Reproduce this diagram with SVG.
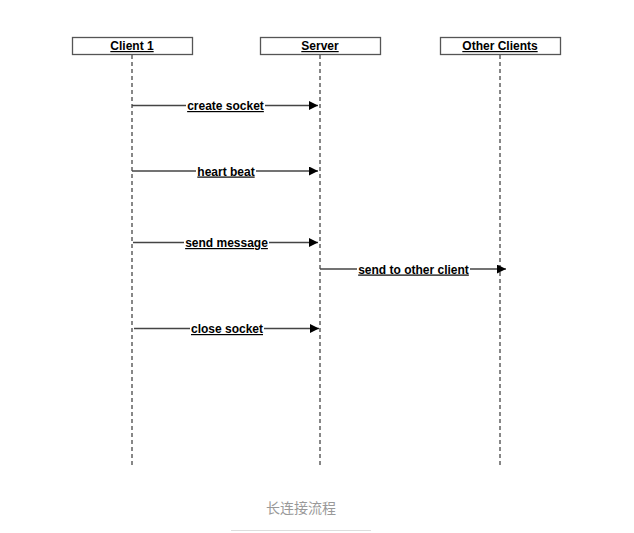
<svg xmlns="http://www.w3.org/2000/svg" width="634" height="533" viewBox="0 0 634 533">
<defs>
<style>
.box{fill:#fff;stroke:#555;stroke-width:1.3}
.life{stroke:#555;stroke-width:1.4;stroke-dasharray:4 3;fill:none}
.msg{stroke:#444;stroke-width:1.5;fill:none}
.lbl{font-family:"Liberation Sans",Arial,sans-serif;font-size:12px;font-weight:bold;fill:#000;text-anchor:middle;text-decoration:underline}
.bg{fill:#fff}
.cap{font-family:"Noto Sans CJK SC",sans-serif;font-size:14px;fill:#999;text-anchor:middle}
</style>
<marker id="arr" viewBox="0 0 10 10" refX="10" refY="5" markerWidth="9" markerHeight="9" markerUnits="userSpaceOnUse" orient="auto">
<path d="M0,0 L10,5 L0,10 z" fill="#000"/>
</marker>
</defs>
<rect width="634" height="533" fill="#fff"/>
<g id="client1">
<rect class="box" x="72.5" y="37.5" width="120" height="17"/>
<text class="lbl" x="132" y="50">Client 1</text>
<line class="life" x1="132" y1="55" x2="132" y2="466"/>
</g>
<g id="server">
<rect class="box" x="260.5" y="37.5" width="120" height="17"/>
<text class="lbl" x="320" y="50">Server</text>
<line class="life" x1="320" y1="55" x2="320" y2="466"/>
</g>
<g id="otherclients">
<rect class="box" x="440.5" y="37.5" width="120" height="17"/>
<text class="lbl" x="500" y="50">Other Clients</text>
<line class="life" x1="500" y1="55" x2="500" y2="466"/>
</g>
<g id="connectors">
<line class="msg" x1="132" y1="105.5" x2="318" y2="105.5" marker-end="url(#arr)"/>
<rect class="bg" x="186" y="98" width="79" height="15"/>
<text class="lbl" x="225.5" y="110">create socket</text>
<line class="msg" x1="132" y1="171" x2="318" y2="171" marker-end="url(#arr)"/>
<rect class="bg" x="196" y="164" width="60" height="15"/>
<text class="lbl" x="226" y="175.5">heart beat</text>
<line class="msg" x1="133" y1="242.5" x2="318" y2="242.5" marker-end="url(#arr)"/>
<rect class="bg" x="184" y="235" width="85" height="15"/>
<text class="lbl" x="226.5" y="247">send message</text>
<line class="msg" x1="320" y1="269" x2="506" y2="269" marker-end="url(#arr)"/>
<rect class="bg" x="357" y="262" width="113" height="15"/>
<text class="lbl" x="413.5" y="273.5">send to other client</text>
<line class="msg" x1="134" y1="328.5" x2="319" y2="328.5" marker-end="url(#arr)"/>
<rect class="bg" x="190" y="321" width="74" height="15"/>
<text class="lbl" x="227" y="333">close socket</text>
</g>
<text class="cap" x="301" y="513">长连接流程</text>
<line x1="231" y1="530.5" x2="371" y2="530.5" stroke="#ddd" stroke-width="1"/>
</svg>
